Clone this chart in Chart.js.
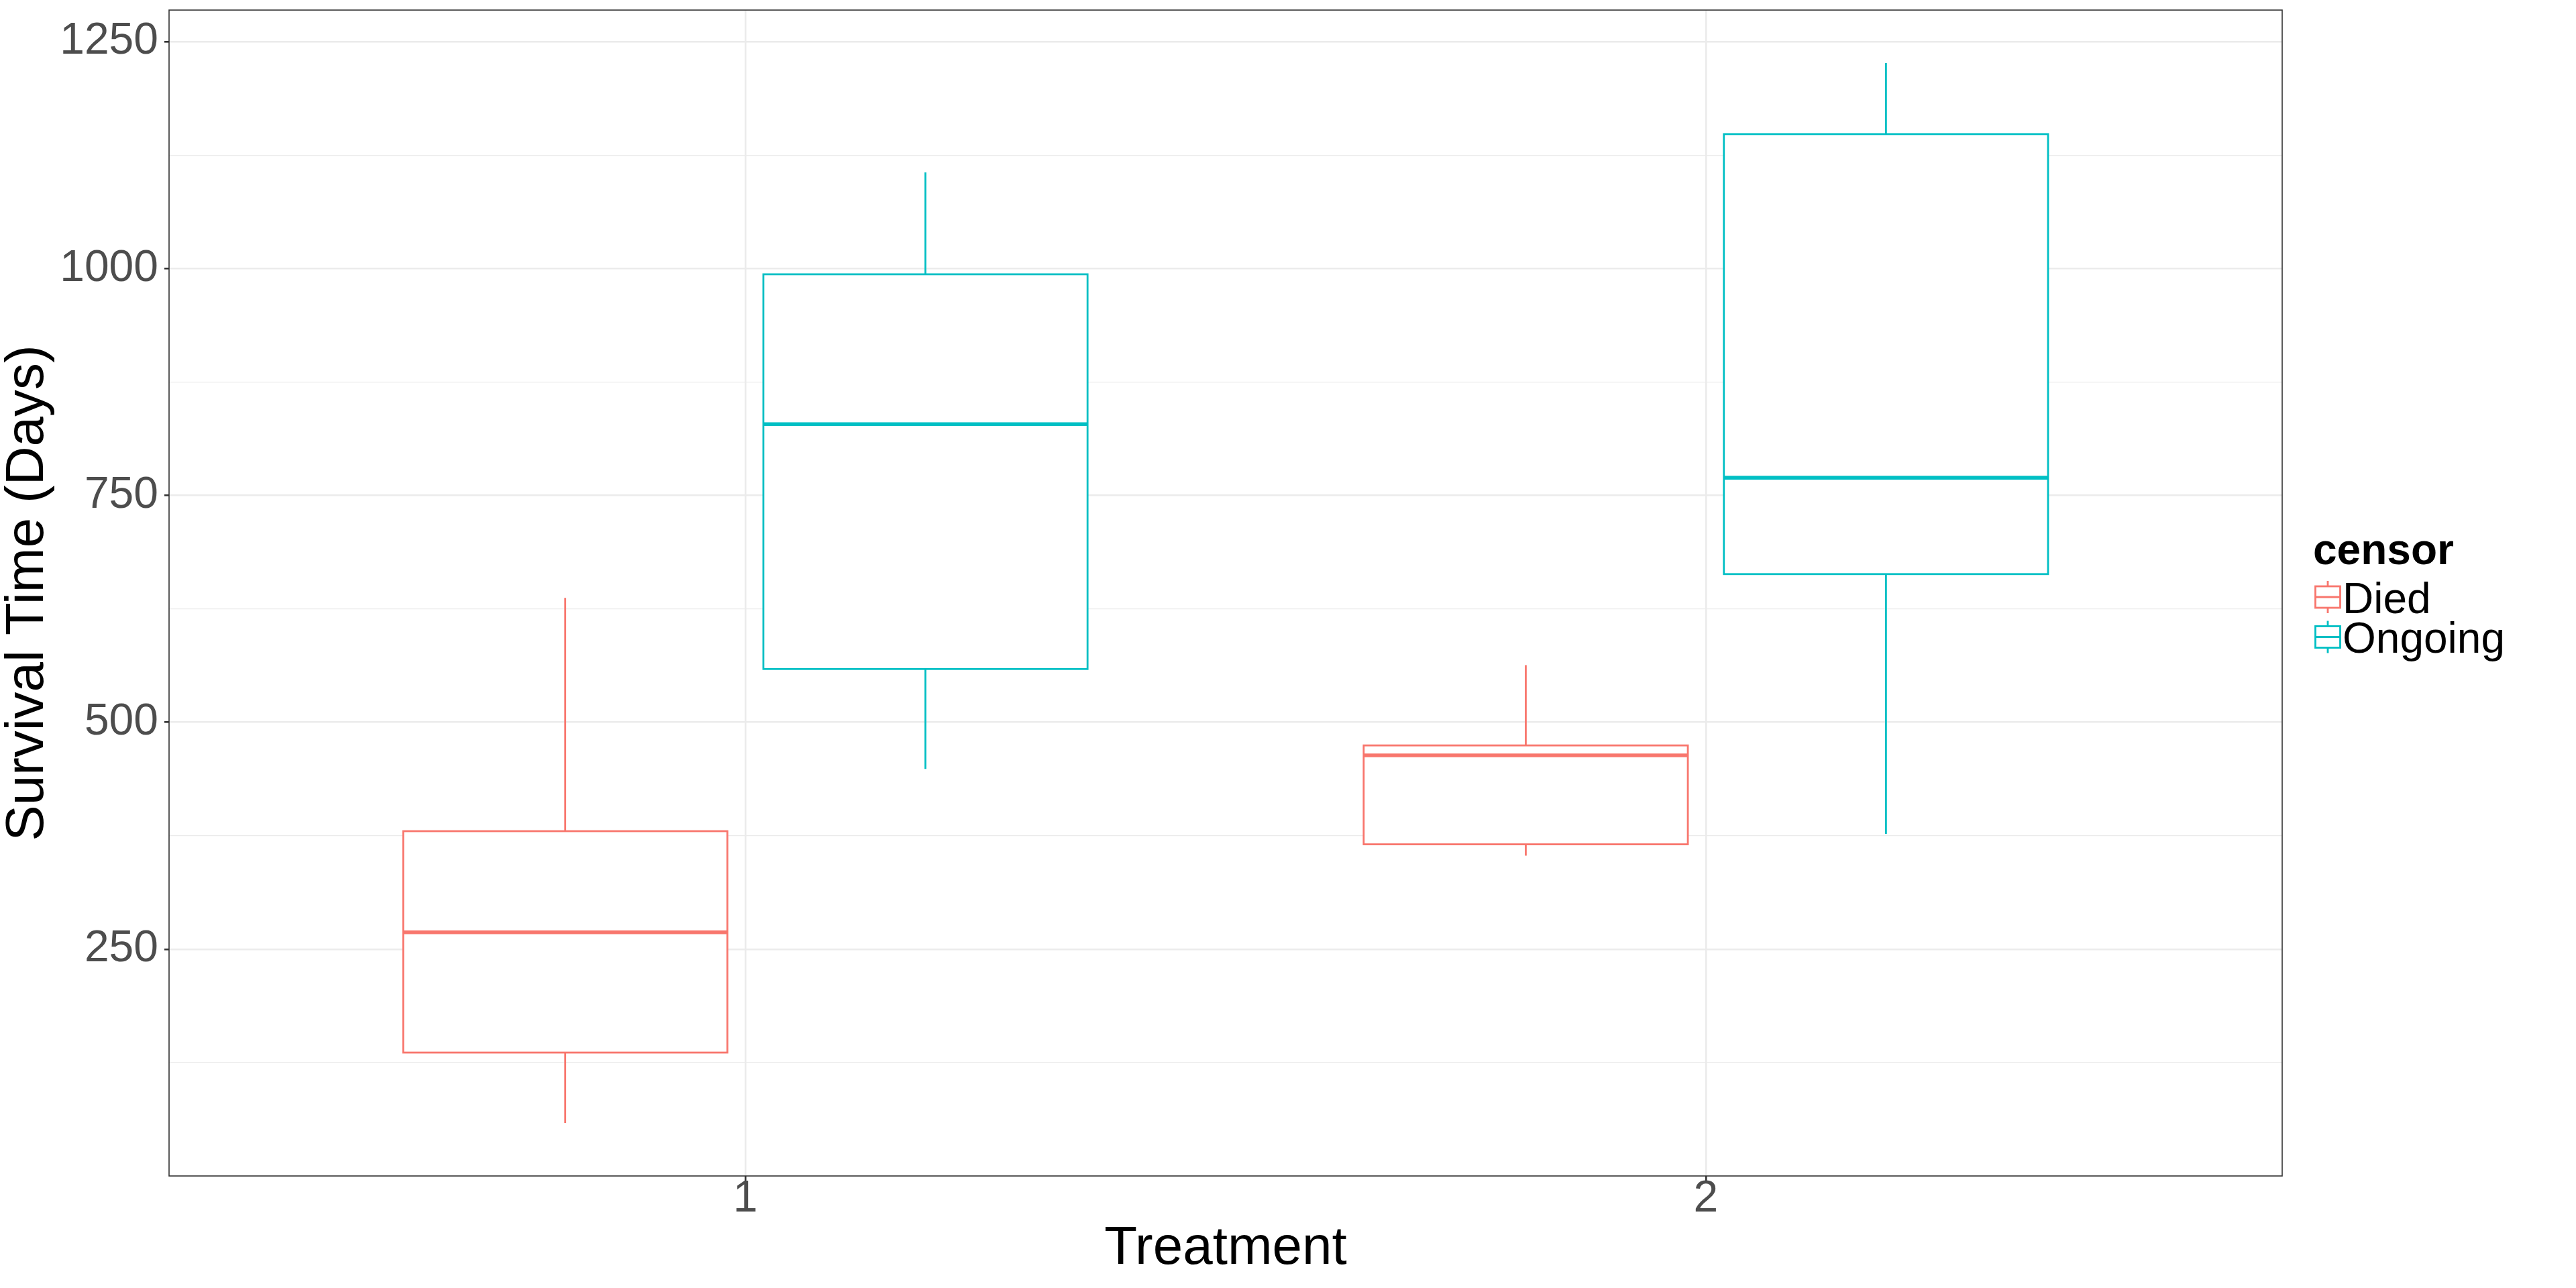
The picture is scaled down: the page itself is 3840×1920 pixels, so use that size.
<!DOCTYPE html>
<html>
<head>
<meta charset="utf-8">
<script src="https://cdn.jsdelivr.net/npm/chart.js@4.4.1/dist/chart.umd.min.js"></script>
<style>
html, body { margin: 0; padding: 0; background: #ffffff; }
canvas { display: block; }
</style>
</head>
<body>
<canvas id="chart" width="3840" height="1920"></canvas>
<script>
// ---- Data ----
const treatments = ['1', '2'];
const censorGroups = ['Died', 'Ongoing'];

const diedLower  = [58.4, 353];
const diedQ1     = [136, 365.5];
const diedMedian = [268.5, 463.5];
const diedQ3     = [380, 474.5];
const diedUpper  = [637, 563];

const ongoingLower  = [448.5, 377];
const ongoingQ1     = [558.7, 663.3];
const ongoingMedian = [828.6, 769.5];
const ongoingQ3     = [993.7, 1148.2];
const ongoingUpper  = [1106, 1226.5];

const yTicks = [250, 500, 750, 1000, 1250];
const yMinorTicks = [125, 375, 625, 875, 1125];

const xTitle = 'Treatment';
const yTitle = 'Survival Time (Days)';
const legendTitle = 'censor';

// ---- Styling ----
const seriesColors = ['#F8766D', '#00BFC4'];
const FONT = '"Liberation Sans", Arial, Helvetica, sans-serif';
const dodge = 0.1875;
const halfBox = 0.16875;

const seriesStats = [
  { lower: diedLower, q1: diedQ1, median: diedMedian, q3: diedQ3, upper: diedUpper },
  { lower: ongoingLower, q1: ongoingQ1, median: ongoingMedian, q3: ongoingQ3, upper: ongoingUpper }
];

const allValues = [].concat(diedLower, diedUpper, ongoingLower, ongoingUpper);
const yLo = Math.min(...allValues);
const yHi = Math.max(...allValues);
const ySpan = yHi - yLo;

Chart.defaults.font.family = FONT;

const boxPlugin = {
  id: 'ggBoxes',
  afterDatasetsDraw(chart) {
    const { ctx, chartArea, scales: { x, y } } = chart;
    ctx.save();
    chart.data.datasets.forEach((ds) => {
      const s = ds.boxStats;
      ds.data.forEach((pt, i) => {
        const xc = x.getPixelForValue(pt.x + ds.dodgeOffset);
        const hw = x.getPixelForValue(pt.x + ds.dodgeOffset + halfBox) - xc;
        const yL = y.getPixelForValue(s.lower[i]);
        const y1 = y.getPixelForValue(s.q1[i]);
        const yM = y.getPixelForValue(pt.y);
        const y3 = y.getPixelForValue(s.q3[i]);
        const yU = y.getPixelForValue(s.upper[i]);
        ctx.strokeStyle = ds.borderColor;
        ctx.lineCap = 'butt';
        ctx.lineWidth = 2.8;
        ctx.beginPath();
        ctx.moveTo(xc, yU); ctx.lineTo(xc, y3);
        ctx.moveTo(xc, y1); ctx.lineTo(xc, yL);
        ctx.stroke();
        ctx.fillStyle = '#ffffff';
        ctx.fillRect(xc - hw, y3, 2 * hw, y1 - y3);
        ctx.strokeRect(xc - hw, y3, 2 * hw, y1 - y3);
        ctx.lineWidth = 5.6;
        ctx.beginPath();
        ctx.moveTo(xc - hw, yM); ctx.lineTo(xc + hw, yM);
        ctx.stroke();
      });
    });
    // panel border
    ctx.strokeStyle = '#333333';
    ctx.lineWidth = 1.6;
    ctx.strokeRect(chartArea.left, chartArea.top, chartArea.right - chartArea.left, chartArea.bottom - chartArea.top);
    ctx.restore();
  }
};

const legendPlugin = {
  id: 'ggLegend',
  afterDraw(chart) {
    const { ctx, chartArea } = chart;
    const cy = (chartArea.top + chartArea.bottom) / 2;
    const x0 = chartArea.right + 48;
    ctx.save();
    ctx.fillStyle = '#000000';
    ctx.textAlign = 'left';
    ctx.textBaseline = 'alphabetic';
    ctx.font = 'bold 64px ' + FONT;
    ctx.fillText(legendTitle, x0 - 2, cy - 43);
    chart.data.datasets.forEach((ds, k) => {
      const rc = cy + 6 + k * 59.5;
      const kx = x0 + 20;
      ctx.strokeStyle = ds.borderColor;
      ctx.lineWidth = 2.8;
      ctx.beginPath();
      ctx.moveTo(kx, rc - 24); ctx.lineTo(kx, rc - 16);
      ctx.moveTo(kx, rc + 16); ctx.lineTo(kx, rc + 24);
      ctx.moveTo(kx - 18.5, rc); ctx.lineTo(kx + 18.5, rc);
      ctx.stroke();
      ctx.strokeRect(kx - 18.5, rc - 16, 37, 32);
      ctx.fillStyle = '#000000';
      ctx.font = '64px ' + FONT;
      ctx.fillText(ds.label, x0 + 42, rc + 23.5);
    });
    ctx.restore();
  }
};

new Chart(document.getElementById('chart'), {
  type: 'scatter',
  data: {
    datasets: censorGroups.map((g, k) => ({
      label: g,
      data: treatments.map((t, i) => ({ x: i + 1, y: seriesStats[k].median[i] })),
      boxStats: seriesStats[k],
      dodgeOffset: (k === 0 ? -1 : 1) * dodge,
      borderColor: seriesColors[k],
      backgroundColor: seriesColors[k],
      pointRadius: 0,
      pointHoverRadius: 0,
      showLine: false
    }))
  },
  options: {
    responsive: false,
    animation: false,
    devicePixelRatio: 1,
    layout: { padding: { top: 15, right: 438, bottom: 0, left: 0 } },
    plugins: {
      legend: { display: false },
      tooltip: { enabled: false }
    },
    events: [],
    scales: {
      x: {
        type: 'linear',
        min: 1 - 0.6,
        max: treatments.length + 0.6,
        afterBuildTicks: (scale) => { scale.ticks = treatments.map((t, i) => ({ value: i + 1 })); },
        afterFit: (scale) => {
          scale.height = 167;
          scale.paddingLeft = 0; scale.paddingRight = 0;
        },
        border: { display: false },
        grid: {
          color: '#EBEBEB',
          lineWidth: 2.6,
          drawTicks: true,
          tickLength: 7,
          tickColor: '#333333',
          tickWidth: 2.6
        },
        ticks: {
          autoSkip: false,
          maxRotation: 0,
          padding: -5,
          color: '#4D4D4D',
          font: { size: 66, lineHeight: 1 },
          callback: (v) => treatments[Math.round(v) - 1] ?? ''
        },
        title: {
          display: true,
          text: xTitle,
          color: '#000000',
          font: { size: 80, lineHeight: 1 },
          padding: { top: 0, bottom: 18 }
        }
      },
      y: {
        type: 'linear',
        min: yLo - 0.05 * ySpan,
        max: yHi + 0.05 * ySpan,
        afterBuildTicks: (scale) => {
          scale.ticks = yMinorTicks.concat(yTicks).sort((a, b) => a - b).map(v => ({ value: v }));
        },
        afterFit: (scale) => {
          scale.width = 252;
          scale.paddingTop = 0; scale.paddingBottom = 0;
        },
        border: { display: false },
        grid: {
          color: '#EBEBEB',
          lineWidth: (c) => (c.tick && yTicks.includes(c.tick.value)) ? 2.6 : 1.3,
          drawTicks: true,
          tickLength: 7,
          tickColor: (c) => (c.tick && yTicks.includes(c.tick.value)) ? '#333333' : 'rgba(0,0,0,0)',
          tickWidth: 2.6
        },
        ticks: {
          autoSkip: false,
          padding: 9,
          color: '#4D4D4D',
          font: { size: 66, lineHeight: 1 },
          callback: (v) => yTicks.includes(v) ? String(v) : ''
        },
        title: {
          display: true,
          text: yTitle,
          color: '#000000',
          font: { size: 80, lineHeight: 1 },
          padding: { top: 2, bottom: 0 }
        }
      }
    }
  },
  plugins: [boxPlugin, legendPlugin]
});
</script>
</body>
</html>
